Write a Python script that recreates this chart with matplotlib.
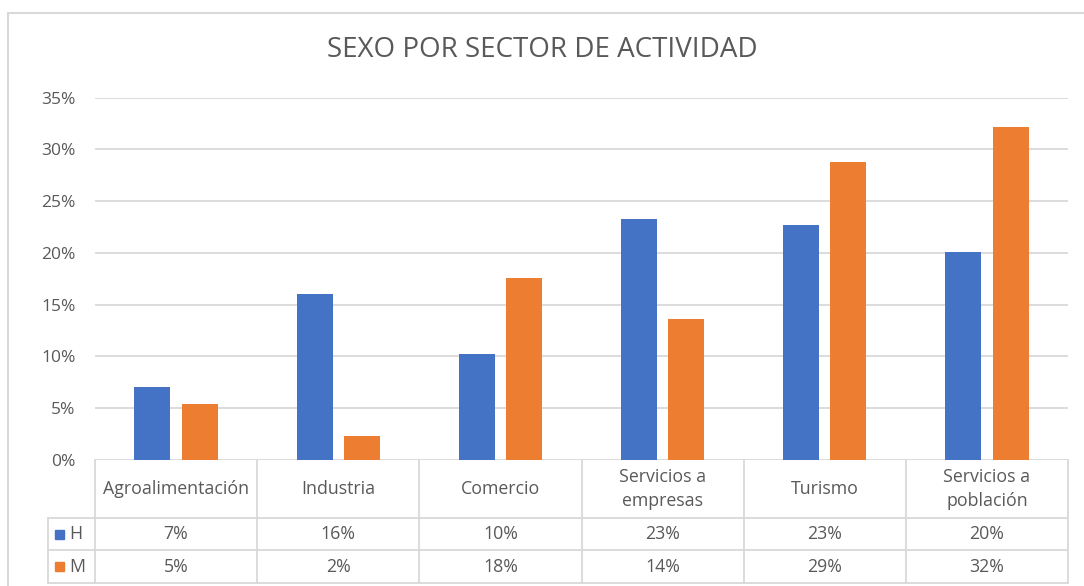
import matplotlib.pyplot as plt
from matplotlib.patches import Rectangle
from matplotlib.lines import Line2D
import numpy as np

plt.rcParams['font.family'] = ['Open Sans', 'DejaVu Sans']

categories = ["Agroalimentación", "Industria", "Comercio",
              "Servicios a\nempresas", "Turismo", "Servicios a\npoblación"]
series_names = ["H", "M"]
h_values = [7.1, 16.0, 10.2, 23.3, 22.7, 20.1]
m_values = [5.4, 2.3, 17.6, 13.6, 28.8, 32.2]
y_ticks = [0, 5, 10, 15, 20, 25, 30, 35]

BLUE = "#4472C4"
ORANGE = "#ED7D31"
GRID = "#d9d9d9"
TEXT = "#595959"

W, H = 1084, 586
fig = plt.figure(figsize=(W / 100, H / 100), dpi=100)

# plot area in pixels
left_px, right_px, top_px, bottom_px = 95, 1068, 97.7, 460
ax = fig.add_axes([left_px / W, 1 - bottom_px / H,
                   (right_px - left_px) / W, (bottom_px - top_px) / H])

x = np.arange(len(categories))
bw = 0.222
off = 0.146
ax.bar(x - off, h_values, bw, color=BLUE, zorder=3)
ax.bar(x + off, m_values, bw, color=ORANGE, zorder=3)

ax.set_xlim(-0.5, len(categories) - 0.5)
ax.set_ylim(0, 35)
ax.set_yticks(y_ticks)
ax.set_yticklabels([f"{t}%" for t in y_ticks])
ax.tick_params(axis='y', length=0, pad=14, labelsize=12.5, labelcolor=TEXT)
ax.set_xticks([])
ax.grid(axis='y', color=GRID, linewidth=1.3, zorder=0)
for s in ax.spines.values():
    s.set_visible(False)

fig.text(0.5, 1 - 50 / H, "SEXO POR SECTOR DE ACTIVIDAD", ha='center', va='center',
         fontsize=20, color=TEXT)

# data table below the axis, drawn in figure pixel coords
def fx(px):
    return px / W

def fy(py):
    return 1 - py / H

col_w = (right_px - left_px) / len(categories)
edges = [left_px + i * col_w for i in range(len(categories) + 1)]
row_y = [460, 518, 550, 583]
leg_left = 48
fs = 12.8

def line(x0, y0, x1, y1):
    fig.add_artist(Line2D([fx(x0), fx(x1)], [fy(y0), fy(y1)], color=GRID,
                          linewidth=1.3, transform=fig.transFigure))

for i, e in enumerate(edges):
    line(e, row_y[0], e, row_y[-1])
line(leg_left, row_y[1], leg_left, row_y[-1])
for ry in row_y[1:]:
    line(leg_left, ry, right_px, ry)

for i, cat in enumerate(categories):
    cx = edges[i] + col_w / 2
    fig.text(fx(cx), fy((row_y[0] + row_y[1]) / 2), cat, ha='center', va='center',
             fontsize=fs, color=TEXT, linespacing=1.45)
    fig.text(fx(cx), fy((row_y[1] + row_y[2]) / 2), f"{round(h_values[i])}%",
             ha='center', va='center', fontsize=fs, color=TEXT)
    fig.text(fx(cx), fy((row_y[2] + row_y[3]) / 2), f"{round(m_values[i])}%",
             ha='center', va='center', fontsize=fs, color=TEXT)

for r, (name, col) in enumerate(zip(series_names, [BLUE, ORANGE])):
    cy = (row_y[r + 1] + row_y[r + 2]) / 2
    fig.add_artist(Rectangle((fx(55), fy(cy + 4.5)), 9 / W, 9 / H, color=col,
                             transform=fig.transFigure))
    fig.text(fx(69), fy(cy), name, ha='left', va='center', fontsize=fs, color=TEXT)

# outer chart border
fig.add_artist(Rectangle((fx(8), fy(H + 5)), (W + 10) / W, (H + 5 - 13) / H,
                         fill=False, edgecolor=GRID, linewidth=1.5,
                         transform=fig.transFigure))

fig.savefig("out.png", dpi=100)
